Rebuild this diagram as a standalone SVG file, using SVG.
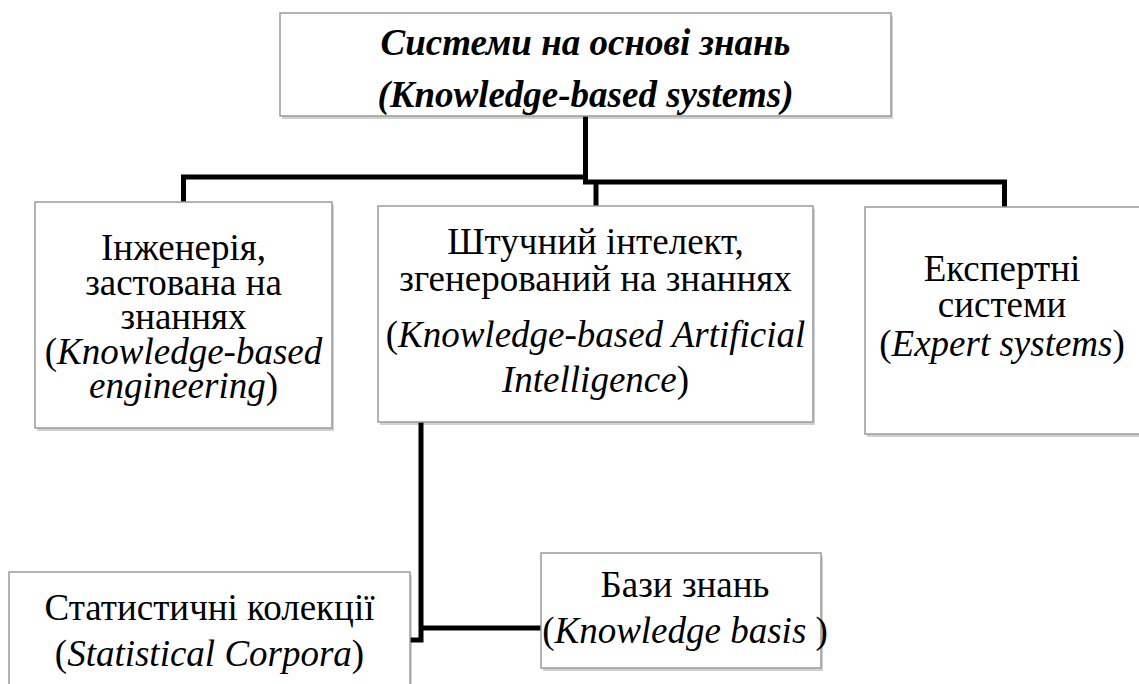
<svg xmlns="http://www.w3.org/2000/svg" width="1139" height="684" viewBox="0 0 1139 684">
  <rect width="1139" height="684" fill="#ffffff"/>

  <g id="shadows" fill="#000000" fill-opacity="0.18">
    <rect x="282" y="16" width="611" height="103"/>
    <rect x="37" y="205" width="297" height="226"/>
    <rect x="380" y="209" width="435" height="216"/>
    <rect x="867" y="210" width="290" height="227"/>
    <rect x="11" y="575" width="401" height="130"/>
    <rect x="543" y="556" width="280" height="115"/>
  </g>

  <g id="connectors" fill="none" stroke="#000000" stroke-width="5" stroke-linejoin="miter">
    <path d="M585.5 116 V177 H183.5 V202"/>
    <path d="M585.5 175 V182 H1004.5 V207"/>
    <path d="M596 182 V206"/>
    <path d="M421 422 V640 H410"/>
    <path d="M421 628 H541"/>
  </g>

  <g id="frames" fill="#ffffff" stroke="#9a9a9a" stroke-width="1.5">
    <rect x="280" y="13" width="611" height="103"/>
    <rect x="35" y="202" width="297" height="226"/>
    <rect x="378" y="206" width="435" height="216"/>
    <rect x="865" y="207" width="290" height="227"/>
    <rect x="9" y="572" width="401" height="130"/>
    <rect x="541" y="553" width="280" height="115"/>
  </g>

  <g id="node-root">
    <text x="585.5" y="55" font-size="37" font-family="Liberation Serif" font-weight="bold" font-style="italic" text-anchor="middle">Системи на основі знань</text>
    <text x="585.5" y="107" font-size="37" font-family="Liberation Serif" font-weight="bold" font-style="italic" text-anchor="middle">(Knowledge-based systems)</text>
  </g>

  <g id="node-kbe">
    <text x="183.5" y="260" font-size="37" font-family="Liberation Serif" text-anchor="middle">Інженерія,</text>
    <text x="183.5" y="295" font-size="37" font-family="Liberation Serif" text-anchor="middle">застована на</text>
    <text x="183.5" y="329" font-size="37" font-family="Liberation Serif" text-anchor="middle">знаннях</text>
    <text x="183.5" y="364" font-size="37" font-family="Liberation Serif" text-anchor="middle">(<tspan font-style="italic">Knowledge-based</tspan></text>
    <text x="183.5" y="398" font-size="37" font-family="Liberation Serif" text-anchor="middle"><tspan font-style="italic">engineering</tspan>)</text>
  </g>

  <g id="node-kbai">
    <text x="595.5" y="254" font-size="37" font-family="Liberation Serif" text-anchor="middle">Штучний інтелект,</text>
    <text x="595.5" y="291" font-size="37" font-family="Liberation Serif" text-anchor="middle">згенерований на знаннях</text>
    <text x="595.5" y="347" font-size="37" font-family="Liberation Serif" text-anchor="middle">(<tspan font-style="italic">Knowledge-based Artificial</tspan></text>
    <text x="595.5" y="392" font-size="37" font-family="Liberation Serif" text-anchor="middle"><tspan font-style="italic">Intelligence</tspan>)</text>
  </g>

  <g id="node-expert">
    <text x="1002" y="281" font-size="37" font-family="Liberation Serif" text-anchor="middle">Експертні</text>
    <text x="1002" y="317" font-size="37" font-family="Liberation Serif" text-anchor="middle">системи</text>
    <text x="1002" y="356" font-size="37" font-family="Liberation Serif" text-anchor="middle">(<tspan font-style="italic">Expert systems</tspan>)</text>
  </g>

  <g id="node-corpora">
    <text x="209.5" y="620" font-size="37" font-family="Liberation Serif" text-anchor="middle">Статистичні колекції</text>
    <text x="209.5" y="666" font-size="37" font-family="Liberation Serif" text-anchor="middle">(<tspan font-style="italic">Statistical Corpora</tspan>)</text>
  </g>

  <g id="node-kb">
    <text x="685" y="597" font-size="37" font-family="Liberation Serif" text-anchor="middle">Бази знань</text>
    <text x="685" y="643" font-size="37" font-family="Liberation Serif" text-anchor="middle">(<tspan font-style="italic">Knowledge basis </tspan>)</text>
  </g>
</svg>
